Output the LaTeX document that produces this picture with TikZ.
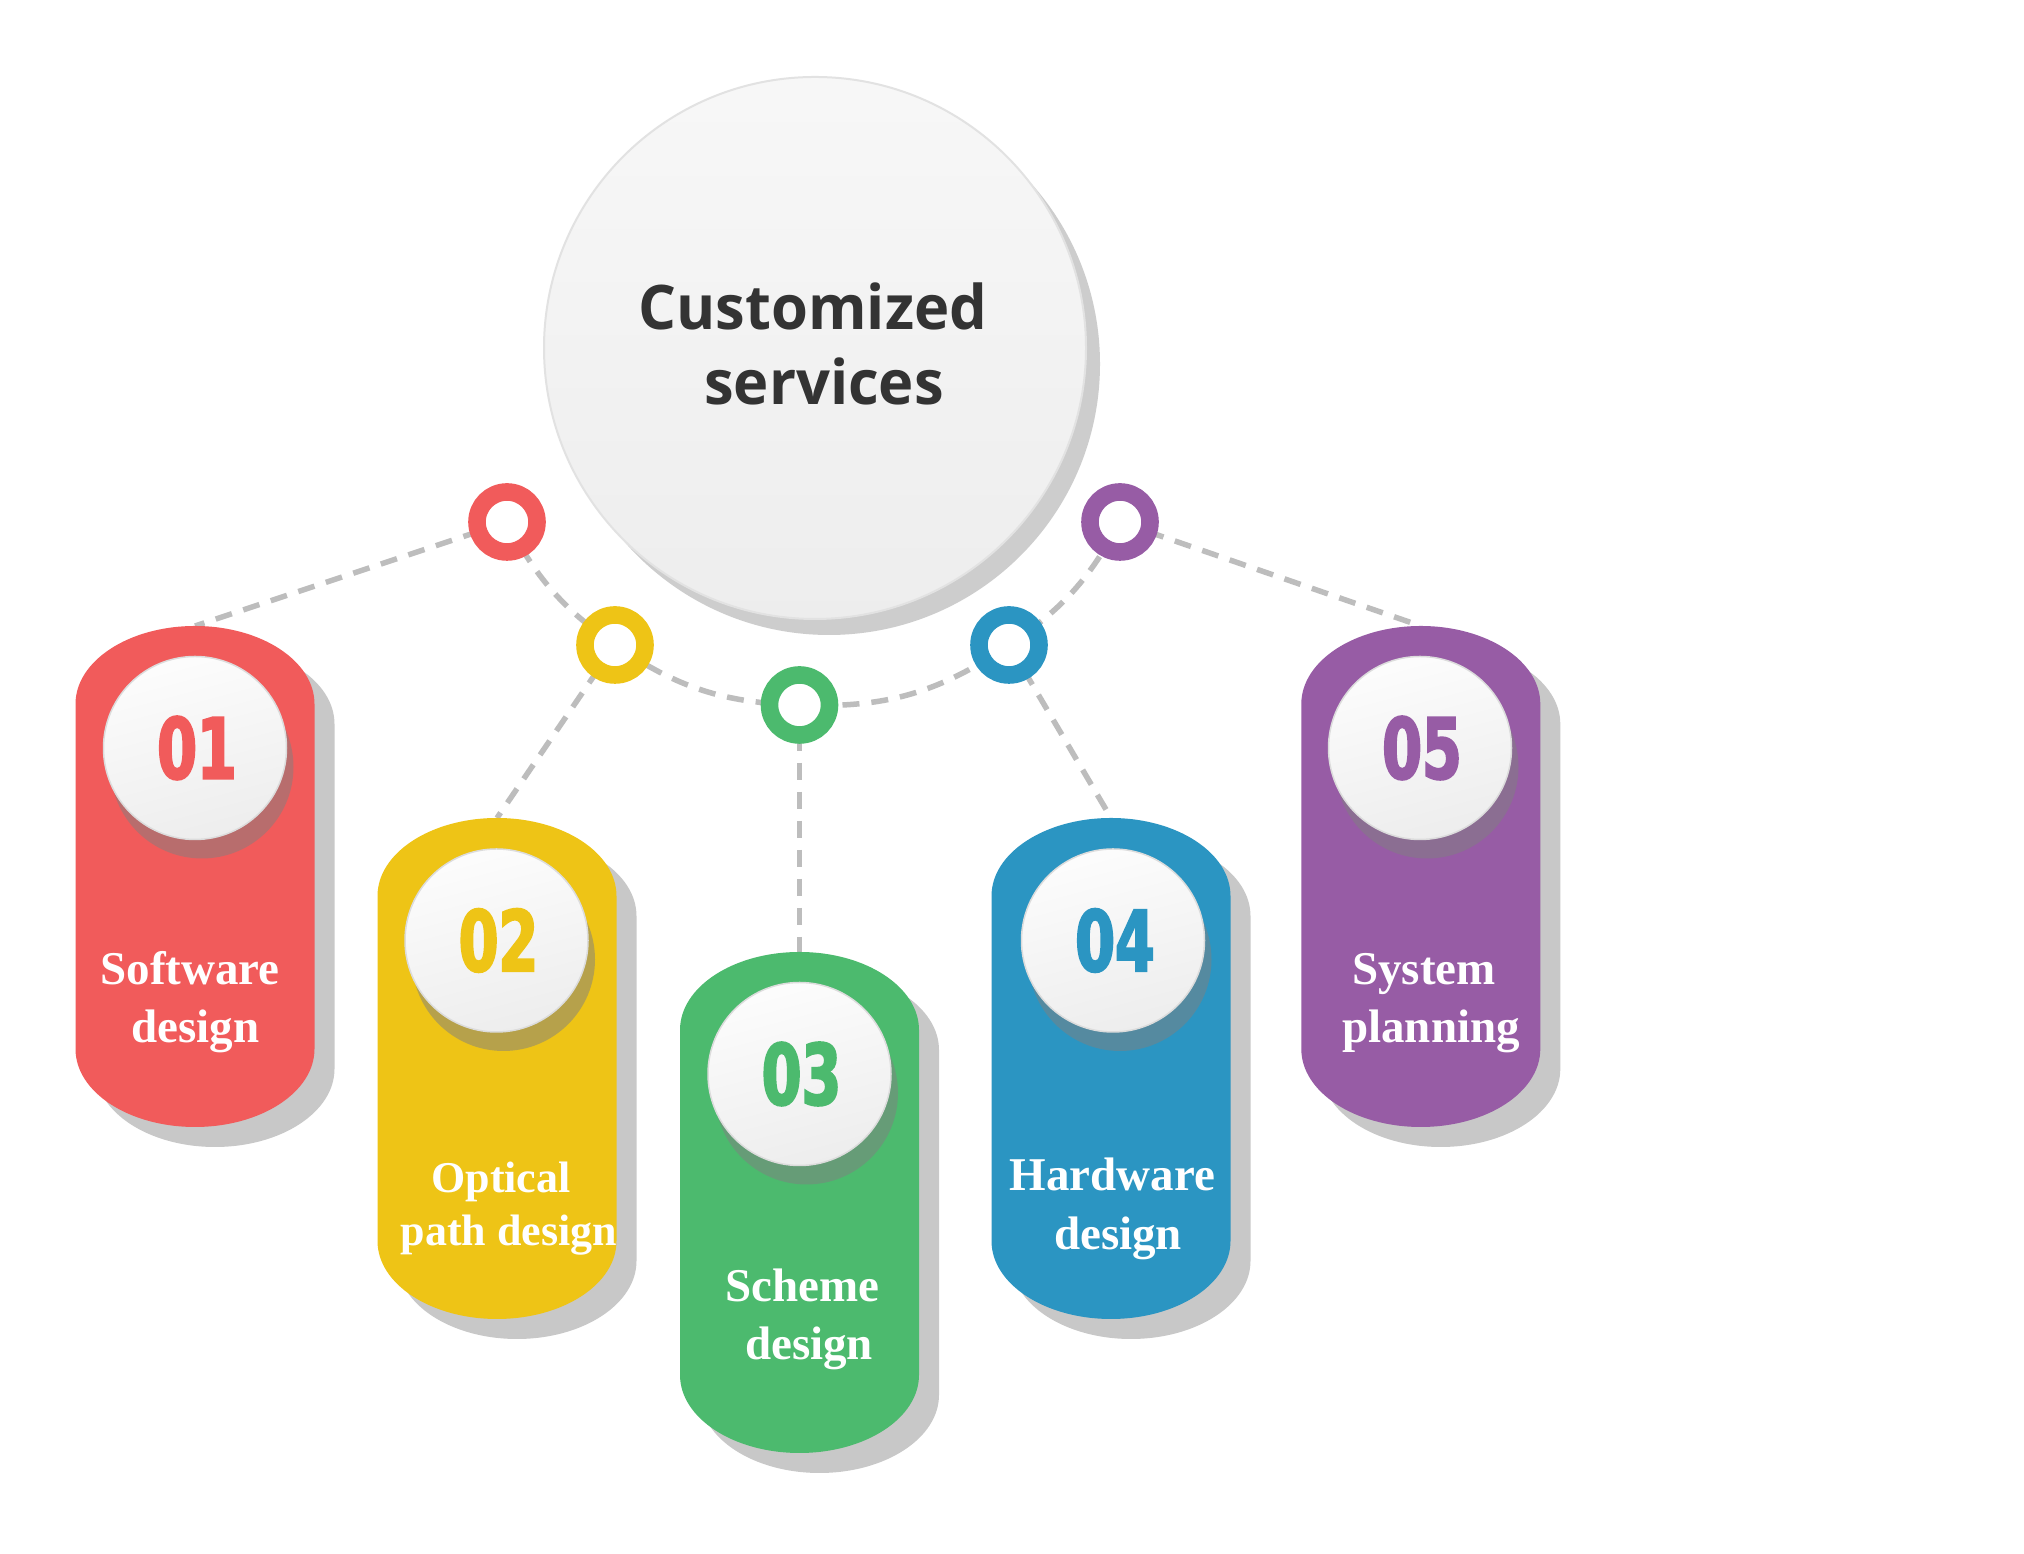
\documentclass[tikz,border=0pt]{standalone}
\usepackage{fontspec}
\setmainfont{Liberation Serif}
\newfontfamily\titlefont{Open Sans}[FakeStretch=0.97]
\newfontfamily\numfont{DejaVu Sans}[FakeStretch=0.68,FakeBold=2.5]
\usetikzlibrary{calc}
\pgfdeclarelayer{back}
\pgfdeclarelayer{lines}
\pgfsetlayers{back,lines,main}
\definecolor{cred}{HTML}{F15B5B}
\definecolor{cyellow}{HTML}{EEC416}
\definecolor{cgreen}{HTML}{4CBA6E}
\definecolor{cblue}{HTML}{2B95C2}
\definecolor{cpurple}{HTML}{975CA5}
\definecolor{cline}{HTML}{BDBDBD}
\definecolor{pillshadowc}{HTML}{C8C8C8}
\definecolor{bigshadowc}{HTML}{CDCDCD}
\definecolor{bigedge}{HTML}{E2E2E2}
\definecolor{discedge}{HTML}{DCDCDC}
\definecolor{titlegray}{HTML}{333333}
\definecolor{discshade}{HTML}{808080}
\tikzset{
  conn/.style={draw=cline, line width=5.5pt, dash pattern=on 17pt off 12pt},
  ring/.style={circle, minimum size=60pt, inner sep=0pt, line width=17.6pt, fill=white},
  disc/.style={circle, minimum size=183pt, inner sep=0pt, draw=discedge, line width=1.5pt,
    top color=white!99!black, bottom color=black!7, shading angle=15},
  discshadow/.style={circle, minimum size=183pt, inner sep=0pt, fill=discshade, fill opacity=0.5},
  numtext/.style={font=\numfont\bfseries\fontsize{84}{84}\selectfont, inner sep=0pt},
  pilltext/.style={font=\bfseries\fontsize{47}{58}\selectfont, text=white, anchor=base, inner sep=0pt},
  titletext/.style={font=\titlefont\bfseries\fontsize{61.5}{74}\selectfont, text=titlegray, anchor=base, inner sep=0pt},
}
% name, cx, top y, colour
\newcommand\mkpill[4]{%
  \coordinate (#1) at (#2,#3);
  \fill[pillshadowc, shift={(#2+20,#3-20)}] (-119.5,-78) arc[start angle=180,end angle=0,x radius=119.5,y radius=78]
     -- (119.5,-423) arc[start angle=0,end angle=-180,x radius=119.5,y radius=78] -- cycle;
  \fill[#4, shift={(#2,#3)}] (-119.5,-78) arc[start angle=180,end angle=0,x radius=119.5,y radius=78]
     -- (119.5,-423) arc[start angle=0,end angle=-180,x radius=119.5,y radius=78] -- cycle;
}
% name, cx, cy, colour, number
\newcommand\mkdisc[5]{%
  \node[discshadow] at (#2+7,#3-19) {};
  \node[disc] (#1) at (#2,#3) {};
  \node[numtext, text=#4] (#1n) at (#2+2,#3) {#5};
}
\begin{document}
\begin{tikzpicture}[x=1pt,y=1pt]
\begin{pgfonlayer}{back}
\fill[white] (0,0) rectangle (2024,1554);
\end{pgfonlayer}
\useasboundingbox (0,0) rectangle (2024,1554);

% central circle
\node[circle, minimum size=542pt, inner sep=0pt, fill=bigshadowc] (Cshadow) at (829,1190) {};
\node[circle, minimum size=542pt, inner sep=0pt, draw=bigedge, line width=2pt,
      top color=white!97!black, bottom color=white!93!black] (C) at (815,1206) {};
\node[titletext] (t1) at (813,1224) {Customized};
\node[titletext] (t2) at (824,1149.5) {services};

% pills
\mkpill{p1}{195}{928}{cred}
\mkpill{p2}{497}{736}{cyellow}
\mkpill{p3}{799.5}{602}{cgreen}
\mkpill{p4}{1111}{736}{cblue}
\mkpill{p5}{1420.8}{928}{cpurple}

% discs with numbers
\mkdisc{d1}{195}{806}{cred}{01}
\mkdisc{d2}{496.5}{613.5}{cyellow}{02}
\mkdisc{d3}{799.5}{480}{cgreen}{03}
\mkdisc{d4}{1113}{613.5}{cblue}{04}
\mkdisc{d5}{1420}{806}{cpurple}{05}

% pill labels
\node[pilltext] (l1a) at (190,569) {Software};
\node[pilltext] (l1b) at (195.5,511) {design};
\node[pilltext, font=\bfseries\fontsize{44}{54}\selectfont] (l2a) at (501,361) {Optical};
\node[pilltext, font=\bfseries\fontsize{44}{54}\selectfont] (l2b) at (509,308) {path design};
\node[pilltext] (l3a) at (802.5,252) {Scheme};
\node[pilltext] (l3b) at (809,194) {design};
\node[pilltext] (l4a) at (1112.5,363) {Hardware};
\node[pilltext] (l4b) at (1118,304) {design};
\node[pilltext] (l5a) at (1424,569) {System};
\node[pilltext] (l5b) at (1431,511) {planning};

% rings
\node[ring, draw=cred] (r1) at (507,1032) {};
\node[ring, draw=cyellow] (r2) at (615,909) {};
\node[ring, draw=cgreen] (r3) at (799.5,849) {};
\node[ring, draw=cblue] (r4) at (1009,909) {};
\node[ring, draw=cpurple] (r5) at (1120,1032) {};

% connectors
\begin{pgfonlayer}{lines}
\draw[conn] (r1.center) to[bend right=13.7] (r2.center)
                        to[bend right=16.4] (r3.center)
                        to[bend right=18.4] (r4.center)
                        to[bend right=13.8] (r5.center);
\draw[conn] (r1.center) -- (p1);
\draw[conn] (r2.center) -- (p2);
\draw[conn] (r3.center) -- (p3);
\draw[conn] (r4.center) -- (p4);
\draw[conn] (r5.center) -- (p5);
\end{pgfonlayer}
\end{tikzpicture}
\end{document}
